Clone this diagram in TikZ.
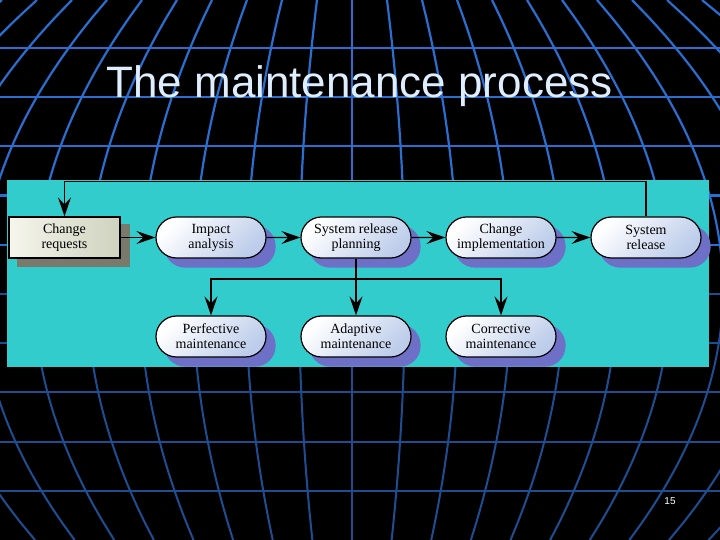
\documentclass[tikz,border=0pt]{standalone}
\usepackage{fontspec}
\setmainfont{Liberation Serif}
\newfontfamily\titlefont{Liberation Sans}
\usetikzlibrary{shapes.misc,arrows.meta,calc}
\definecolor{gridbright}{RGB}{42,110,208}
\definecolor{griddark}{RGB}{30,78,145}
\definecolor{panelcyan}{RGB}{51,204,204}
\definecolor{shadowblue}{RGB}{110,112,200}
\definecolor{shadowgray}{RGB}{122,122,108}
\definecolor{boxblue}{RGB}{188,204,234}
\definecolor{reqlight}{RGB}{246,246,236}
\definecolor{reqdark}{RGB}{206,210,190}
\definecolor{titlecol}{RGB}{222,238,255}
\pgfdeclarelayer{back}
\pgfdeclarelayer{shade}
\pgfsetlayers{back,shade,main}
\tikzset{
  procbox/.style={rounded rectangle, draw=black, line width=1.2pt,
    minimum width=110pt, minimum height=41pt, inner sep=0pt, align=center,
    font=\fontsize{14}{15}\selectfont, top color=white, bottom color=boxblue,
    shading angle=45},
  reqbox/.style={rectangle, draw=black, line width=1.2pt,
    minimum width=111pt, minimum height=41pt, inner sep=0pt, align=center,
    font=\fontsize{14}{15}\selectfont, left color=reqlight, right color=reqdark},
  arr/.style={line width=1.2pt, -{Stealth[length=19pt,width=13pt,inset=7pt]}},
  gridline/.style={line width=2.2pt},
}
\begin{document}
\begin{tikzpicture}[x=1pt,y=-1pt]
\useasboundingbox (0,0) rectangle (720,540);
\begin{pgfonlayer}{back}
  \fill[black] (0,0) rectangle (720,540);
  % bright upper grid
  \begin{scope}
    \clip (0,0) rectangle (720,280);
    \foreach \i in {-12,...,12}
      \draw[gridline, gridbright] plot[domain=0:540, samples=30, smooth, variable=\t]
        ({352+(\i)*(53-2.14*((\t-290)/100)^2)}, \t);
    \foreach \yy in {48,97.2,146.4,195.6,244.8,294,343.2,392.4,441.6,490.8}
      \draw[gridline, gridbright] (0,\yy) -- (720,\yy);
  \end{scope}
  % darker lower grid
  \begin{scope}
    \clip (0,280) rectangle (720,540);
    \foreach \i in {-12,...,12}
      \draw[gridline, griddark, line width=2pt] plot[domain=0:540, samples=30, smooth, variable=\t]
        ({352+(\i)*(53-2.14*((\t-290)/100)^2)}, \t);
    \foreach \yy in {48,97.2,146.4,195.6,244.8,294,343.2,392.4,441.6,490.8}
      \draw[gridline, griddark, line width=2pt] (0,\yy) -- (720,\yy);
  \end{scope}
  \fill[panelcyan] (7,180) rectangle (709,367);
\end{pgfonlayer}

\node[anchor=base, text=titlecol, font=\titlefont\fontsize{44}{48}\selectfont] (title) at (359.5,98) {The maintenance process};
\node[text=white, font=\titlefont\fontsize{10}{12}\selectfont] (pagenum) at (670,501) {15};

\node[reqbox] (chreq) at (64.5,237.5) {Change\\requests};
\node[procbox] (impact) at (211,237.5) {Impact\\analysis};
\node[procbox] (srp) at (356,237.5) {System release\\planning};
\node[procbox] (chimpl) at (501,237.5) {Change\\implementation};
\node[procbox] (sysrel) at (646,237.5) {System\\release};
\node[procbox] (perf) at (211,336.5) {Perfective\\maintenance};
\node[procbox] (adapt) at (356,336.5) {Adaptive\\maintenance};
\node[procbox] (corr) at (501,336.5) {Corrective\\maintenance};

\begin{pgfonlayer}{shade}
  \foreach \n in {impact,srp,chimpl,sysrel,perf,adapt,corr}
    \fill[shadowblue, rounded corners=20.5pt]
      ($(\n.west |- \n.south)+(9,9)$) rectangle ($(\n.east |- \n.north)+(9,9)$);
  \fill[shadowgray] ($(chreq.south west)+(9,8)$) rectangle ($(chreq.north east)+(9,8)$);
\end{pgfonlayer}

\draw[arr] (chreq) -- (impact);
\draw[arr] (impact) -- (srp);
\draw[arr] (srp) -- (chimpl);
\draw[arr] (chimpl) -- (sysrel);
\draw[arr] (sysrel.north) -- ++(0,-35) -| (chreq.north);
\coordinate (branch) at (356,279);
\draw[arr] (srp.south) -- (adapt.north);
\draw[arr] (branch) -| (perf.north);
\draw[arr] (branch) -| (corr.north);
\end{tikzpicture}
\end{document}
